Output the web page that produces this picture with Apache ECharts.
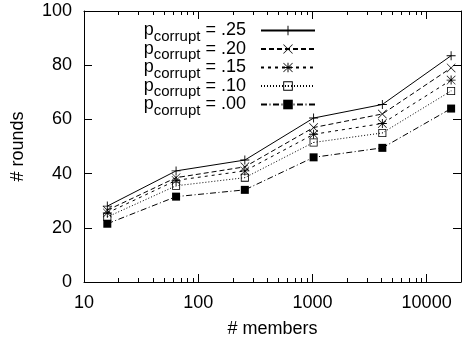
<!DOCTYPE html>
<html><head><meta charset="utf-8">
<script src="https://cdn.jsdelivr.net/npm/echarts@6/dist/echarts.min.js"></script>
<style>html,body{margin:0;padding:0;background:#fff;overflow:hidden}#c{width:464px;height:343px}</style>
</head><body><div id="c"></div>
<script>
const members = [16, 64, 256, 1024, 4096, 16384];
const pLabels = ['.25', '.20', '.15', '.10', '.00'];
const rounds25 = [28, 41, 45, 60.5, 65.5, 83.5];
const rounds20 = [26.5, 38.5, 42.5, 57, 62, 79];
const rounds15 = [25.5, 37.5, 41, 54.5, 58.5, 74.5];
const rounds10 = [24, 35.5, 38.5, 51.5, 55, 70.5];
const rounds00 = [21.5, 31.5, 34, 46, 49.5, 64];
const xTickLabels = [10, 100, 1000, 10000];
const xMinorTicks = [20,30,40,50,60,70,80,90,200,300,400,500,600,700,800,900,2000,3000,4000,5000,6000,7000,8000,9000];
const yTickLabels = [0, 20, 40, 60, 80, 100];

const FONT = 'Liberation Sans';
const PLUS = 'M9,0H11V20H9Z M0,9H20V11H0Z';
const CROSS = 'M1,0L20,19L19,20L0,1Z M19,0L20,1L1,20L0,19Z';
const symbols = ['path://' + PLUS, 'path://' + CROSS, 'path://' + PLUS + ' ' + CROSS,
  'path://M0,0H20V20H0Z M2,2V18H18V2Z M9,9H11V11H9Z', 'rect'];
const symbolSizes = [9, 9, 9, 8, 8];
const dashes = ['solid', [5, 3], [3, 4], [1, 2], [6, 2.5, 1, 2.5]];
const seriesData = [rounds25, rounds20, rounds15, rounds10, rounds00];
const names = pLabels.map(p => 'pcorrupt = ' + p);

const lineSeries = seriesData.map((vals, i) => ({
  name: names[i], type: 'line',
  data: members.map((m, j) => [m, vals[j]]),
  symbol: symbols[i], symbolSize: symbolSizes[i], showAllSymbol: true,
  itemStyle: { color: '#000', borderWidth: 0 },
  lineStyle: { color: '#000', width: 1, type: dashes[i] },
  emphasis: { disabled: true }
}));

const minorSeries = {
  type: 'custom', silent: true, xAxisIndex: 0, yAxisIndex: 0, clip: false,
  data: xMinorTicks.map(v => [v, 0]),
  renderItem: (params, api) => {
    const b = api.coord([api.value(0), yTickLabels[0]]);
    const t = api.coord([api.value(0), yTickLabels[yTickLabels.length - 1]]);
    const x = Math.round(b[0]) + 0.5;
    return { type: 'group', children: [
      { type: 'line', shape: { x1: x, y1: b[1], x2: x, y2: b[1] - 4 }, style: { stroke: '#000', lineWidth: 1 } },
      { type: 'line', shape: { x1: x, y1: t[1], x2: x, y2: t[1] + 4 }, style: { stroke: '#000', lineWidth: 1 } }
    ]};
  }
};

const axisCommonX = {
  type: 'log', logBase: 10, min: xTickLabels[0], max: 20000,
  axisLine: { show: true, onZero: false, lineStyle: { color: '#000', width: 1 } },
  axisTick: { show: true, inside: true, length: 8, lineStyle: { color: '#000' } },
  splitLine: { show: false }, minorTick: { show: false }
};
const axisCommonY = {
  type: 'value', min: yTickLabels[0], max: yTickLabels[yTickLabels.length - 1], interval: 20,
  axisLine: { show: true, onZero: false, lineStyle: { color: '#000', width: 1 } },
  axisTick: { show: true, inside: true, length: 8, lineStyle: { color: '#000' } },
  splitLine: { show: false }
};

const chart = echarts.init(document.getElementById('c'), null, { renderer: 'canvas' });
chart.setOption({
  animation: false,
  backgroundColor: '#fff',
  grid: { left: 84, right: -4, top: 11, bottom: 61, containLabel: false },
  xAxis: [
    Object.assign({}, axisCommonX, {
      position: 'bottom',
      name: '# members', nameLocation: 'middle', nameGap: 38,
      nameTextStyle: { fontFamily: FONT, fontSize: 18, color: '#000' },
      axisLabel: { margin: 12, fontFamily: FONT, fontSize: 18, color: '#000',
        formatter: v => xTickLabels.includes(Math.round(v)) ? String(Math.round(v)) : '' }
    }),
    Object.assign({}, axisCommonX, { position: 'top', axisLabel: { show: false } })
  ],
  yAxis: [
    Object.assign({}, axisCommonY, {
      position: 'left',
      name: '# rounds', nameLocation: 'middle', nameGap: 57,
      nameTextStyle: { fontFamily: FONT, fontSize: 18, color: '#000' },
      axisLabel: { margin: 12, fontFamily: FONT, fontSize: 18, color: '#000' }
    }),
    Object.assign({}, axisCommonY, { position: 'right', axisLabel: { show: false } })
  ],
  legend: {
    orient: 'vertical', right: 148, top: 21.5, padding: 0, align: 'right',
    itemWidth: 54, itemHeight: 12, itemGap: -4, selectedMode: false,
    data: names,
    formatter: n => '{a|p}{s|corrupt}{b|' + n.replace('pcorrupt', '') + '}',
    textStyle: {
      fontFamily: FONT, color: '#000',
      rich: {
        a: { fontFamily: FONT, fontSize: 18, lineHeight: 27, color: '#000' },
        s: { fontFamily: FONT, fontSize: 15, verticalAlign: 'bottom', color: '#000' },
        b: { fontFamily: FONT, fontSize: 18, lineHeight: 27, color: '#000', padding: [0, 10, 0, 0] }
      }
    }
  },
  series: lineSeries.concat([minorSeries])
});
</script></body></html>
